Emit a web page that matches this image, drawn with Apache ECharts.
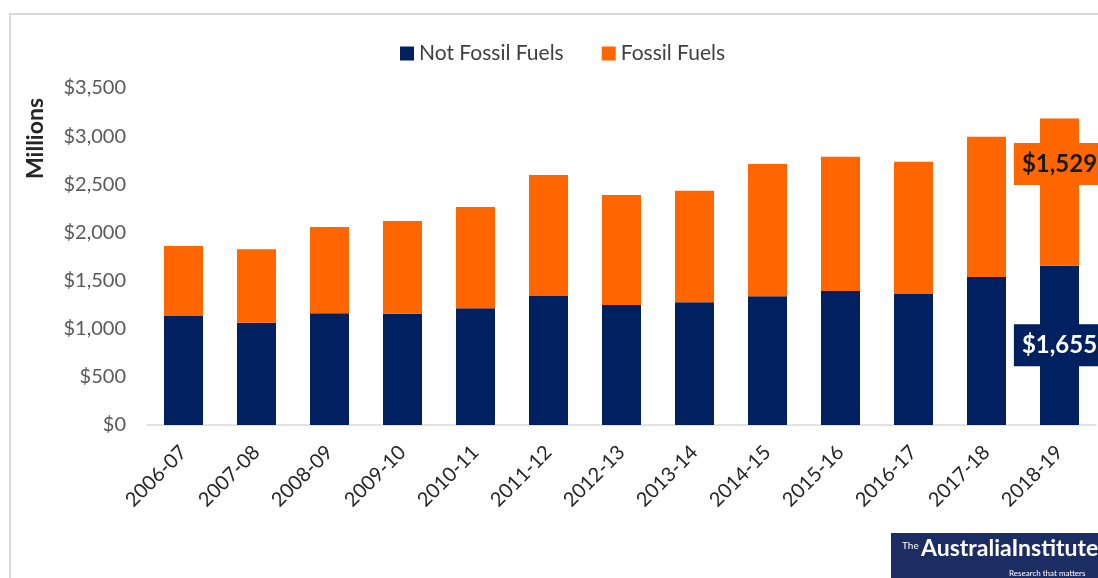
<!DOCTYPE html>
<html>
<head>
<meta charset="utf-8">
<script src="https://cdn.jsdelivr.net/npm/echarts@6/dist/echarts.min.js"></script>
<style>
  html, body { margin: 0; padding: 0; background: #ffffff; }
  #chart { width: 1098px; height: 578px; }
</style>
</head>
<body>
<div id="chart"></div>
<script>
const categories = ['2006-07','2007-08','2008-09','2009-10','2010-11','2011-12','2012-13','2013-14','2014-15','2015-16','2016-17','2017-18','2018-19'];
const notFossil = [1132, 1063, 1160, 1156, 1212, 1340, 1246, 1275, 1336, 1391, 1367, 1537, 1655];
const fossil = [727, 761, 896, 962, 1052, 1256, 1142, 1157, 1374, 1395, 1367, 1457, 1529];
const yTicks = [0, 500, 1000, 1500, 2000, 2500, 3000, 3500];

const NAVY = '#002060';
const ORANGE = '#ff6600';
const FONT = 'Lato, "Open Sans", sans-serif';

function fmt(v) { return '$' + v.toLocaleString('en-US'); }

function withLastLabel(values, labelOpts) {
  return values.map((v, i) => i === values.length - 1 ? { value: v, label: labelOpts } : v);
}

const chart = echarts.init(document.getElementById('chart'), null, { renderer: 'canvas' });

chart.setOption({
  animation: false,
  backgroundColor: '#ffffff',
  textStyle: { fontFamily: FONT },
  legend: {
    top: 38,
    left: 395,
    itemWidth: 14,
    itemHeight: 14,
    itemGap: 38,
    icon: 'rect',
    textStyle: { fontFamily: FONT, fontSize: 21, color: '#404040' },
    data: ['Not Fossil Fuels', 'Fossil Fuels']
  },
  grid: { left: 147, top: 88, width: 949, height: 337, containLabel: false },
  xAxis: {
    type: 'category',
    data: categories,
    axisLine: { lineStyle: { color: '#d9d9d9', width: 1.5 } },
    axisTick: { show: false },
    axisLabel: { rotate: 45, fontFamily: FONT, fontSize: 20, color: '#262626', margin: 24 }
  },
  yAxis: {
    type: 'value',
    min: yTicks[0],
    max: yTicks[yTicks.length - 1],
    interval: 500,
    splitLine: { show: false },
    axisLine: { show: false },
    axisTick: { show: false },
    axisLabel: { fontFamily: FONT, fontSize: 20, color: '#595959', margin: 21, formatter: v => fmt(v) }
  },
  series: [
    {
      name: 'Not Fossil Fuels',
      type: 'bar',
      stack: 'total',
      barWidth: 39,
      itemStyle: { color: NAVY },
      data: withLastLabel(notFossil, {
        show: true, position: 'inside', formatter: p => fmt(p.value),
        fontFamily: FONT, fontSize: 24, fontWeight: 'bold', color: '#ffffff',
        backgroundColor: NAVY, padding: [9, 8]
      })
    },
    {
      name: 'Fossil Fuels',
      type: 'bar',
      stack: 'total',
      barWidth: 39,
      itemStyle: { color: ORANGE },
      data: withLastLabel(fossil, {
        show: true, position: 'inside', offset: [0, -28], formatter: p => fmt(p.value),
        fontFamily: FONT, fontSize: 24, fontWeight: 'bold', color: '#1a1a1a',
        backgroundColor: ORANGE, padding: [9, 8]
      })
    }
  ],
  graphic: [
    {
      type: 'rect', z: -10, silent: true,
      shape: { x: 10, y: 14, width: 1120, height: 600 },
      style: { fill: 'none', stroke: '#d9d9d9', lineWidth: 2 }
    },
    {
      type: 'text', left: 24, top: 98, rotation: Math.PI / 2,
      style: { text: 'Millions', font: 'bold 23px ' + FONT, fill: '#262626' }
    },
    {
      type: 'group', left: 891, top: 533,
      children: [
        { type: 'rect', shape: { x: 0, y: 0, width: 220, height: 50 }, style: { fill: '#1b2d63' } },
        { type: 'text', x: 11, y: 8, style: { text: 'The', font: '10px ' + FONT, fill: '#ffffff' } },
        { type: 'text', x: 30, y: 4, style: { text: 'AustraliaInstitute', font: 'bold 23px ' + FONT, fill: '#ffffff' } },
        { type: 'text', x: 118, y: 36, style: { text: 'Research that matters', font: '8px ' + FONT, fill: '#ffffff' } }
      ]
    }
  ]
});
</script>
</body>
</html>
